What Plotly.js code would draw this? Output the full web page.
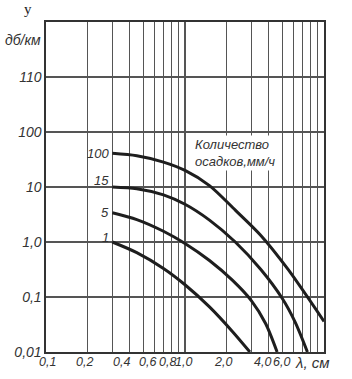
<!DOCTYPE html>
<html>
<head>
<meta charset="utf-8">
<script src="https://cdn.plot.ly/plotly-3.0.1.min.js"></script>
<style>html,body{margin:0;padding:0;background:#fff;}#chart{width:352px;height:379px;}</style>
</head>
<body>
<div id="chart"></div>
<script>
// Wavelength (cm) and attenuation (dB/km) for each rainfall rate (mm/h)
const rainLabels = ["100", "15", "5", "1"];
const rain100_x = [0.3, 0.45, 0.7, 1.0, 1.5, 2.3, 3.5, 5.5, 10];
const rain100_y = [41, 37, 28.4, 20, 10.6, 3.8, 1.33, 0.32, 0.036];
const rain15_x = [0.3, 0.45, 0.7, 1.0, 1.5, 2.3, 3.5, 5.0, 6.2, 7.6];
const rain15_y = [10, 9.3, 7.2, 4.85, 2.5, 1.0, 0.32, 0.095, 0.035, 0.01];
const rain5_x = [0.3, 0.45, 0.7, 1.0, 1.5, 2.2, 3.0, 3.8, 4.6];
const rain5_y = [3.4, 2.56, 1.57, 0.94, 0.46, 0.2, 0.086, 0.033, 0.01];
const rain1_x = [0.3, 0.45, 0.7, 1.0, 1.5, 2.2, 2.93];
const rain1_y = [1.0, 0.64, 0.33, 0.167, 0.066, 0.0234, 0.01];

const xGridVals = [0.1,0.2,0.3,0.4,0.5,0.6,0.7,0.8,0.9,1,2,3,4,5,6,7,8,9,10];
const xLabelVals = [0.1, 0.2, 0.4, 0.6, 0.8, 1, 2, 4, 6];
const xLabelText = ["0,1", "0,2", "0,4", "0,6", "0,8", "1,0", "2,0", "4,0", "6,0"];
const yTickVals = [0.01, 0.1, 1, 10, 100, 1000];
const yTickText = ["0,01", "0,1", "1,0", "10", "100", "110"];

const xAxisLabel = "λ, см";
const yAxisLabel = "дб/км";
const legendTitle = "Количество<br>осадков,мм/ч";
const cornerMark = "y";

const seriesX = [rain100_x, rain15_x, rain5_x, rain1_x];
const seriesY = [rain100_y, rain15_y, rain5_y, rain1_y];
const labelShift = [0, 7, 0, 5];
const xLabelShift = [1, -3, -8, -6.5, -4, -1.5, -4, -6.5, -11.5];

const ink = "#1e1e1e";
const txt = "#333";
const tf = {family: "Liberation Sans, Arial, sans-serif", size: 13, color: txt, style: "italic"};
const yf = {family: "Liberation Sans, Arial, sans-serif", size: 14, color: txt, style: "italic"};
const xf = {family: "Liberation Sans, Arial, sans-serif", size: 12.5, color: txt, style: "italic"};

const traces = seriesX.map((xs, i) => ({
  x: xs, y: seriesY[i], type: "scatter", mode: "lines",
  line: {color: ink, width: 3, shape: "spline", smoothing: 0.8},
  hoverinfo: "skip", showlegend: false
}));

const annotations = seriesX.map((xs, i) => ({
  x: Math.log10(xs[0]), y: Math.log10(seriesY[i][0]), xref: "x", yref: "y",
  text: rainLabels[i], showarrow: false, xanchor: "right", yanchor: "middle",
  xshift: -1, yshift: labelShift[i], font: tf
}));
xLabelVals.forEach((v, i) => annotations.push({
  x: Math.log10(v), y: -(362-352)/330, xref: "x", yref: "paper", text: xLabelText[i],
  showarrow: false, xanchor: "center", yanchor: "middle", xshift: xLabelShift[i], font: xf
}));
annotations.push(
  {x: 0.68, y: 0.603, xref: "paper", yref: "paper", text: legendTitle, showarrow: false,
   xanchor: "center", yanchor: "middle", align: "left", bgcolor: "#fff", font: tf, borderpad: 1},
  {x: (293-46)/278, y: -(362-352)/330, xref: "paper", yref: "paper", text: xAxisLabel, showarrow: false,
   xanchor: "left", yanchor: "middle", font: {family: "Liberation Sans, Arial, sans-serif", size: 15, color: txt, style: "italic"}},
  {x: (23-46)/278, y: (352-40)/330, xref: "paper", yref: "paper", text: yAxisLabel, showarrow: false,
   xanchor: "center", yanchor: "middle", font: yf},
  {x: (28-46)/278, y: (352-9)/330, xref: "paper", yref: "paper", text: cornerMark, showarrow: false,
   xanchor: "center", yanchor: "middle", font: {family: "Liberation Serif, serif", size: 15, color: "#222"}}
);

const layout = {
  width: 352, height: 379,
  margin: {l: 46, r: 28, t: 22, b: 27},
  paper_bgcolor: "#fff", plot_bgcolor: "#fff",
  showlegend: false,
  xaxis: {type: "log", range: [-1, 1], tickmode: "array", tickvals: xGridVals, showticklabels: false,
    showgrid: true, gridcolor: "#555", gridwidth: 1.2, showline: true, mirror: true,
    linecolor: "#333", linewidth: 1.6, ticks: "", zeroline: false, fixedrange: true},
  yaxis: {type: "log", range: [-2, 4], tickmode: "array", tickvals: yTickVals, ticktext: yTickText,
    showgrid: true, gridcolor: "#555", gridwidth: 1.2, showline: true, mirror: true,
    linecolor: "#333", linewidth: 1.6, ticks: "", tickfont: yf, zeroline: false, fixedrange: true},
  annotations: annotations
};

Plotly.newPlot("chart", traces, layout, {staticPlot: true, displayModeBar: false});
</script>
</body>
</html>
